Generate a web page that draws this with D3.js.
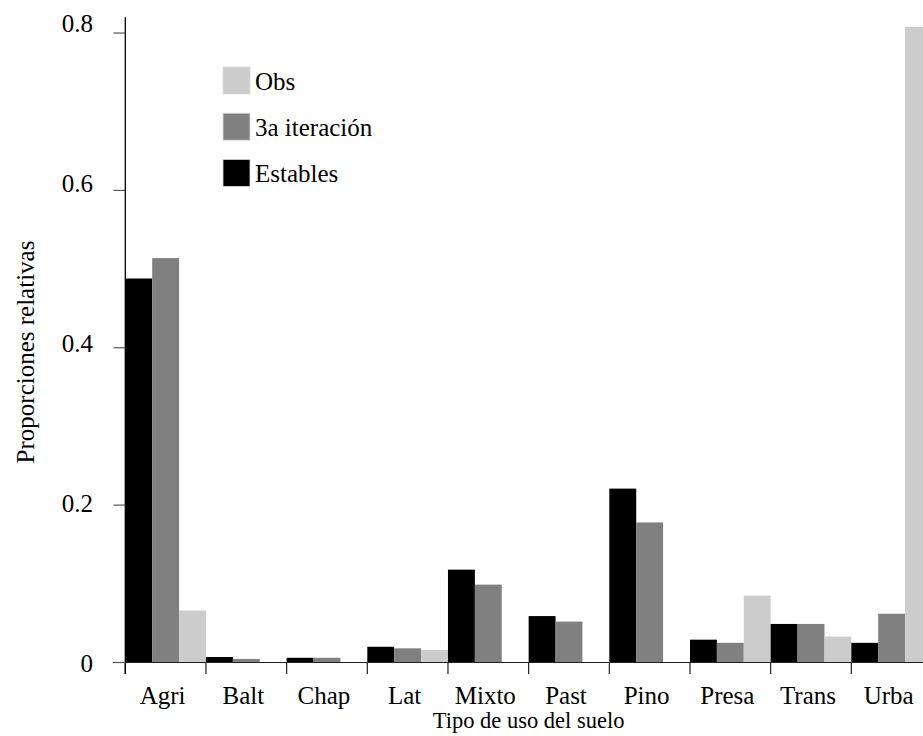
<!DOCTYPE html>
<html>
<head>
<meta charset="utf-8">
<script src="https://cdn.jsdelivr.net/npm/d3@7/dist/d3.min.js"></script>
<style>
  html, body { margin: 0; padding: 0; background: #fff; }
  text { font-family: 'Liberation Serif', 'DejaVu Serif', 'Times New Roman', serif; }
</style>
</head>
<body>
<svg id="chart" width="923" height="736"></svg>
<script>
// Land-use categories
const categories = ["Agri", "Balt", "Chap", "Lat", "Mixto", "Past", "Pino", "Presa", "Trans", "Urba"];

// Relative proportions per series
const estables   = [0.488, 0.007, 0.006, 0.020, 0.118, 0.059, 0.221, 0.029, 0.049, 0.025];
const iteracion3 = [0.514, 0.0045, 0.006, 0.018, 0.099, 0.052, 0.178, 0.025, 0.049, 0.062];
const obs        = [0.066, 0, 0, 0.016, 0, 0, 0, 0.085, 0.033, 0.808];

const seriesNames = ["Estables", "3a iteración", "Obs"];
const legendOrder = ["Obs", "3a iteración", "Estables"];
const yTicks = [0, 0.2, 0.4, 0.6, 0.8];
const yTickLabels = ["0", "0.2", "0.4", "0.6", "0.8"];

const colors = { "Estables": "#000000", "3a iteración": "#808080", "Obs": "#cccccc" };
const valuesBySeries = { "Estables": estables, "3a iteración": iteracion3, "Obs": obs };

const FONT = "'Liberation Serif', 'DejaVu Serif', serif";

const svg = d3.select("#chart");

const x = d3.scaleBand().domain(categories).range([125.3, 932]).padding(0);
const xs = d3.scaleBand().domain(seriesNames).range([0, x.bandwidth()]).padding(0);
const y = d3.scaleLinear().domain([0, 0.82]).range([662.5, 17.3]);
// tick labels sit on a slightly wider spacing than the ticks
const yLab = d3.scaleLinear().domain([0, 0.8]).range([663.5, 23.5]);

const rows = categories.map((c, i) => ({
  cat: c,
  vals: seriesNames.map(s => ({ s, v: valuesBySeries[s][i] }))
}));

// bars
const groups = svg.append("g").selectAll("g")
  .data(rows).join("g")
  .attr("transform", d => `translate(${x(d.cat)},0)`);

groups.selectAll("rect")
  .data(d => d.vals.filter(e => e.v > 0))
  .join("rect")
  .attr("x", e => xs(e.s))
  .attr("width", xs.bandwidth())
  .attr("y", e => y(e.v))
  .attr("height", e => y(0) - y(e.v))
  .attr("fill", e => colors[e.s]);

// baseline
svg.append("line")
  .attr("x1", 113).attr("x2", 923)
  .attr("y1", y(0)).attr("y2", y(0))
  .attr("stroke", "#222").attr("stroke-width", 1.2);

// x ticks at category boundaries
const bounds = categories.map(c => x(c));
svg.append("g").selectAll("line")
  .data(bounds).join("line")
  .attr("x1", d => d).attr("x2", d => d)
  .attr("y1", y(0)).attr("y2", y(0) + 11.5)
  .attr("stroke", "#222").attr("stroke-width", 1.2);

// x labels
svg.append("g").selectAll("text")
  .data(categories).join("text")
  .attr("x", d => x(d) + x.bandwidth() / 2 - 3)
  .attr("y", 704)
  .attr("text-anchor", "middle")
  .attr("font-family", FONT)
  .attr("font-size", 25)
  .attr("fill", "#000")
  .text(d => d);

// y axis line
svg.append("line")
  .attr("x1", 125.3).attr("x2", 125.3)
  .attr("y1", y(0.82)).attr("y2", y(0) + 11.5)
  .attr("stroke", "#000").attr("stroke-width", 1.3);

// y ticks
svg.append("g").selectAll("line")
  .data(yTicks).join("line")
  .attr("x1", 113.5).attr("x2", 125.3)
  .attr("y1", d => y(d)).attr("y2", d => y(d))
  .attr("stroke", "#555").attr("stroke-width", 1.2);

svg.append("g").selectAll("text")
  .data(yTicks).join("text")
  .attr("x", 93)
  .attr("y", d => yLab(d))
  .attr("dy", "0.34em")
  .attr("text-anchor", "end")
  .attr("font-family", FONT)
  .attr("font-size", 25)
  .attr("fill", "#000")
  .text((d, i) => yTickLabels[i]);

// axis titles
svg.append("text")
  .attr("x", 528.6).attr("y", 728)
  .attr("text-anchor", "middle")
  .attr("font-family", FONT)
  .attr("font-size", 22.5)
  .text("Tipo de uso del suelo");

svg.append("text")
  .attr("transform", "translate(34,352) rotate(-90)")
  .attr("text-anchor", "middle")
  .attr("font-family", FONT)
  .attr("font-size", 25)
  .text("Proporciones relativas");

// legend
const legend = svg.append("g").attr("transform", "translate(223,67)");
const li = legend.selectAll("g").data(legendOrder).join("g")
  .attr("transform", (d, i) => `translate(0,${i * 46.2})`);
li.append("rect")
  .attr("width", 27).attr("height", 27)
  .attr("fill", d => colors[d])
  .attr("stroke", "#ddd").attr("stroke-width", 0.8);
li.append("text")
  .attr("x", 32).attr("y", 22.5)
  .attr("font-family", FONT)
  .attr("font-size", 25)
  .text(d => d);
</script>
</body>
</html>
